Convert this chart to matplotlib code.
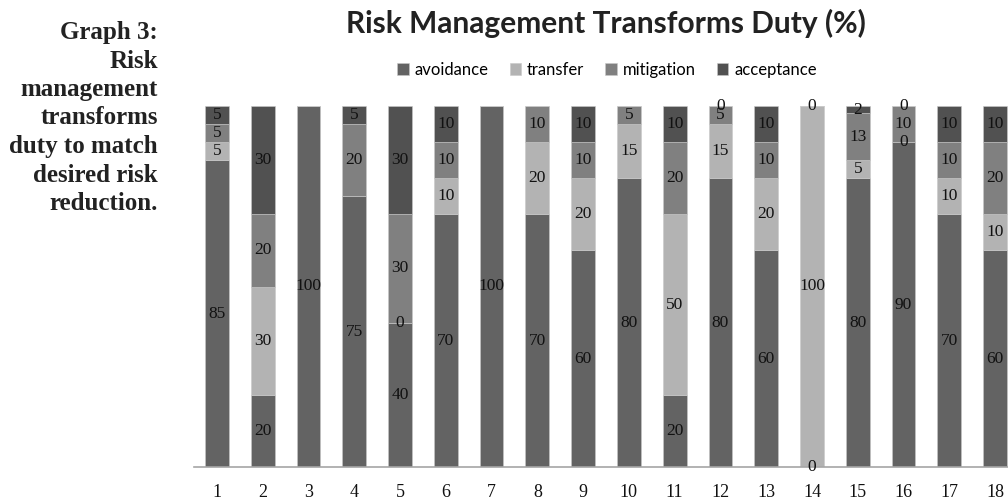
import matplotlib
matplotlib.use("Agg")
import matplotlib.pyplot as plt
import numpy as np

categories = [str(i) for i in range(1, 19)]
# None = segment absent (no label); 0 = zero segment with a label
avoidance  = [85, 20, 100, 75, 40, 70, 100, 70, 60, 80, 20, 80, 60, 0, 80, 90, 70, 60]
transfer   = [5, 30, None, None, 0, 10, None, 20, 20, 15, 50, 15, 20, 100, 5, 0, 10, 10]
mitigation = [5, 20, None, 20, 30, 10, None, 10, 10, 5, 20, 5, 10, None, 13, 10, 10, 20]
acceptance = [5, 30, None, 5, 30, 10, None, None, 10, None, 10, 0, 10, 0, 2, 0, 10, 10]

caption_lines = ["Graph 3:", "Risk", "management", "transforms",
                 "duty to match", "desired risk", "reduction."]

series = [("avoidance", avoidance, "#636363"),
          ("transfer", transfer, "#b3b3b3"),
          ("mitigation", mitigation, "#808080"),
          ("acceptance", acceptance, "#515151")]

fig = plt.figure(figsize=(10.08, 5.04), dpi=100)
ax = fig.add_axes([194/1008, 37/504, (1018-194)/1008, 361/504])

x = np.arange(1, len(categories) + 1)
bottom = np.zeros(len(categories))
for name, vals, col in series:
    h = np.array([0 if v is None else v for v in vals], dtype=float)
    ax.bar(x, h, width=0.52, bottom=bottom, color=col, edgecolor="#c9c9c9",
           linewidth=0.4, label=name)
    for xi, b, v in zip(x, bottom, vals):
        if v is None:
            continue
        ax.text(xi, b + v / 2, f"{v}", ha="center", va="center",
                fontsize=12.5, family="Liberation Serif", color="#111111")
    bottom += h

ax.set_xlim(0.5, 18.5)
ax.set_ylim(0, 100)
ax.set_xticks(x)
ax.set_xticklabels(categories, family="Liberation Serif", fontsize=13, color="#111111")
ax.tick_params(axis="x", length=0, pad=12)
ax.set_yticks([])
for s in ["top", "left", "right"]:
    ax.spines[s].set_visible(False)
ax.spines["bottom"].set_color("#a6a6a6")
ax.spines["bottom"].set_linewidth(1.2)

fig.text(606/1008, 1 - 23/504, "Risk Management Transforms Duty (%)",
         ha="center", va="center", fontsize=21.5, fontweight="bold",
         family="Lato", color="#222222")

handles, labels = ax.get_legend_handles_labels()
fig.legend(handles, labels, loc="center", bbox_to_anchor=(607/1008, 1 - 70/504),
           ncol=4, frameon=False, handlelength=0.7, handleheight=0.7,
           handletextpad=0.35, columnspacing=1.25, prop={"family": "Lato", "size": 12})

for i, line in enumerate(caption_lines):
    fig.text(158/1008, 1 - (30 + 28.5 * i)/504, line,
             ha="right", va="center_baseline", fontsize=18, fontweight="bold",
             family="Liberation Serif", color="#222222")

fig.savefig("out.png", dpi=100)
